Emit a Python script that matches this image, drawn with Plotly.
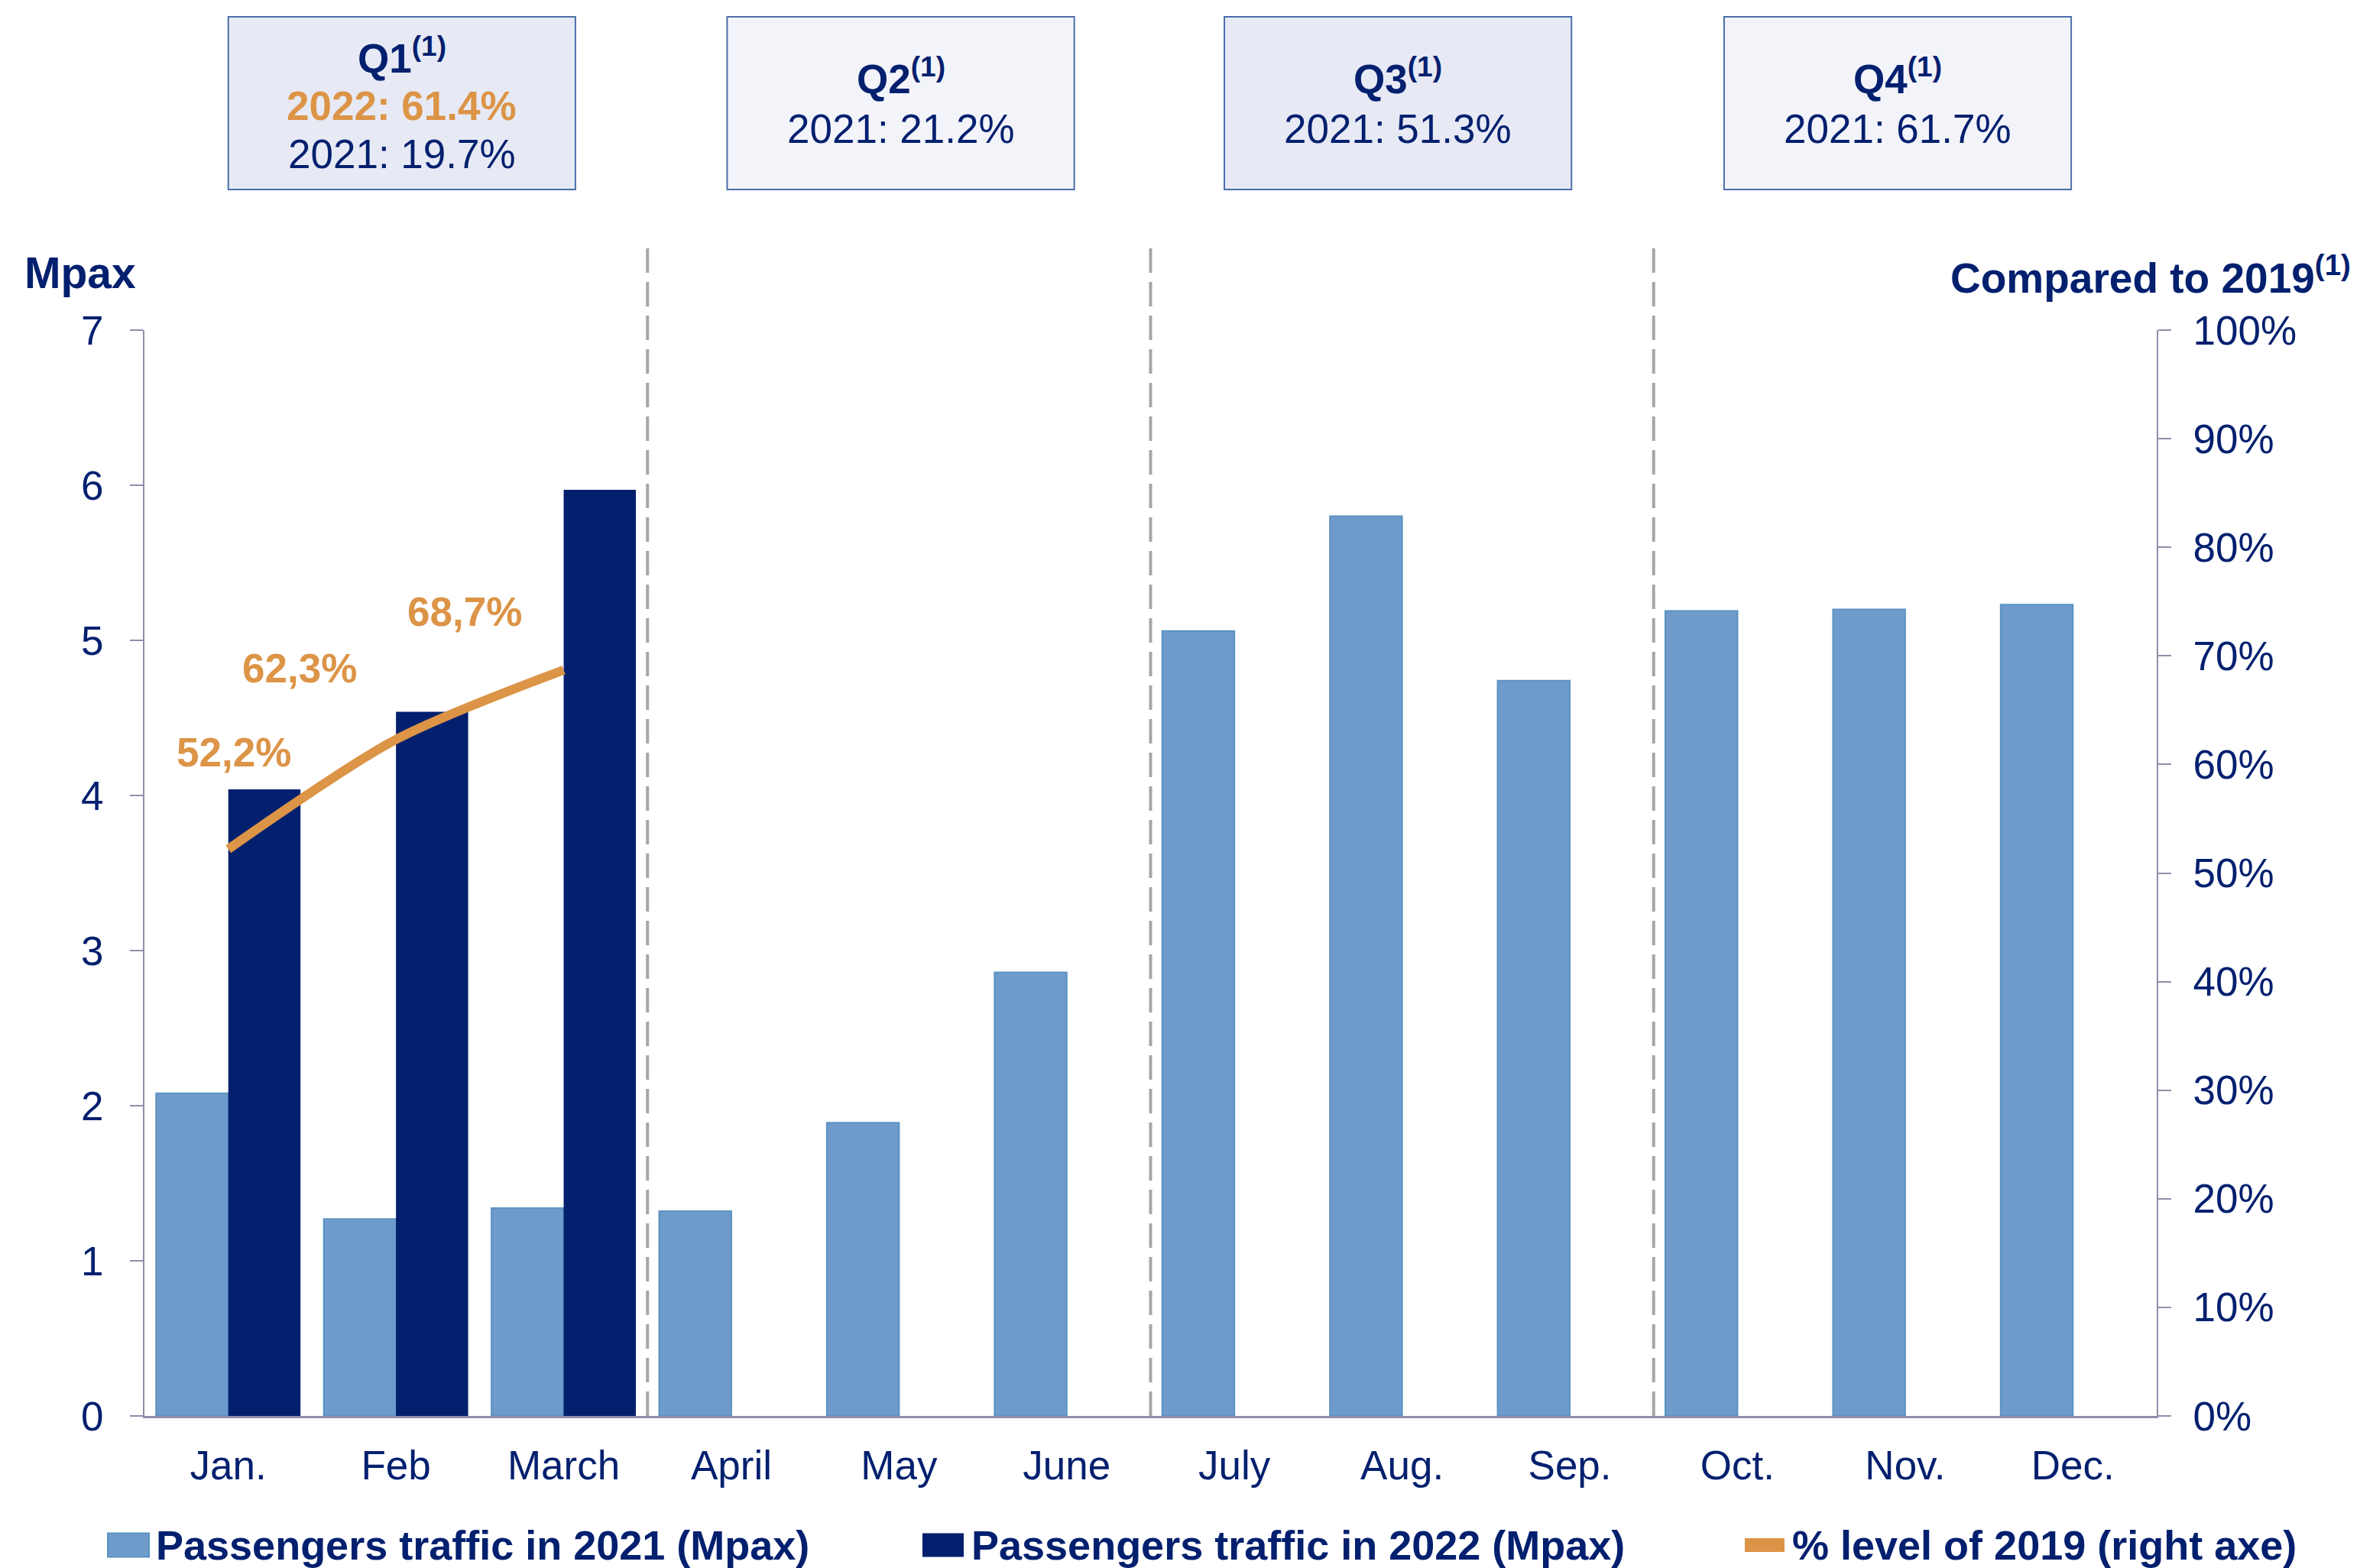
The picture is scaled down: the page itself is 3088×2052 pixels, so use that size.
import plotly.graph_objects as go

# ---------------- data ----------------
months = ["Jan.", "Feb", "March", "April", "May", "June",
          "July", "Aug.", "Sep.", "Oct.", "Nov.", "Dec."]
pax_2021 = [2.08, 1.27, 1.34, 1.32, 1.89, 2.86, 5.06, 5.80, 4.74, 5.19, 5.20, 5.23]
pax_2022 = [4.04, 4.54, 5.97, None, None, None, None, None, None, None, None, None]
pct_months = ["Jan.", "Feb", "March"]
pct_of_2019 = [0.522, 0.623, 0.687]
quarters = ["Q1", "Q2", "Q3", "Q4"]
q_2022 = ["61.4%", None, None, None]
q_2021 = ["19.7%", "21.2%", "51.3%", "61.7%"]
y_ticks = [0, 1, 2, 3, 4, 5, 6, 7]
y2_ticks = [0, 0.1, 0.2, 0.3, 0.4, 0.5, 0.6, 0.7, 0.8, 0.9, 1.0]
series_names = ["Passengers traffic in 2021 (Mpax)",
                "Passengers traffic in 2022 (Mpax)",
                "% level of 2019 (right axe)"]

# ---------------- style ----------------
NAVY = "#03206F"
LIGHT = "#6E9BCB"
LIGHT_EDGE = "#5B93C2"
ORANGE = "#DC9447"
AXIS = "#8E8EAB"
FONT = "Liberation Sans, Arial, sans-serif"

W, H = 3088, 2052
ML, MR, MT, MB = 189, 266, 432, 199
PW, PH = W - ML - MR, H - MT - MB


def px_x(xp):
    return (xp - ML) / PW


def px_y(yp):
    return (H - MB - yp) / PH


fig = go.Figure()

fig.add_trace(go.Bar(
    x=months, y=pax_2021, name=series_names[0],
    marker=dict(color=LIGHT, line=dict(color=LIGHT_EDGE, width=2)),
))
fig.add_trace(go.Bar(
    x=months, y=pax_2022, name=series_names[1],
    marker=dict(color=NAVY, line=dict(width=0)),
))
fig.add_trace(go.Scatter(
    x=pct_months, y=pct_of_2019, name=series_names[2],
    yaxis="y2", mode="lines",
    line=dict(color=ORANGE, width=12, shape="spline", smoothing=0.8),
))

annotations = []
shapes = []

# percent labels on the line
shifts = [(7, 127), (-126, 93), (-130, 76)]
for m, v, (dx, dy) in zip(pct_months, pct_of_2019, shifts):
    annotations.append(dict(
        x=m, y=v, xref="x", yref="y2", showarrow=False,
        text="<b>" + f"{v*100:.1f}".replace(".", ",") + "%</b>",
        font=dict(family=FONT, size=53, color=ORANGE),
        xshift=dx, yshift=dy, xanchor="center", yanchor="middle",
    ))

# quarter boxes
box_starts = [0.0, 2.975, 5.94, 8.92]
box_fills = ["#E7EAF5", "#F3F4FA", "#E7EAF5", "#F3F4FA"]
for i, q in enumerate(quarters):
    x0 = box_starts[i]
    x1 = x0 + 2.07
    shapes.append(dict(
        type="rect", xref="x", yref="paper",
        x0=x0, x1=x1, y0=px_y(248), y1=px_y(22),
        fillcolor=box_fills[i], line=dict(color="#4A6FA8", width=2),
        layer="above",
    ))
    xc = (x0 + x1) / 2
    if q_2022[i] is not None:
        lines = [(f"<b>{q}<sup>(1)</sup></b>", NAVY, 72),
                 (f"<b>2022: {q_2022[i]}</b>", ORANGE, 138),
                 (f"2021: {q_2021[i]}", NAVY, 201)]
    else:
        lines = [(f"<b>{q}<sup>(1)</sup></b>", NAVY, 99),
                 (f"2021: {q_2021[i]}", NAVY, 169)]
    for txt, col, yp in lines:
        annotations.append(dict(
            x=xc, y=px_y(yp), xref="x", yref="paper", showarrow=False,
            text=txt, font=dict(family=FONT, size=53, color=col),
            xanchor="center", yanchor="middle",
        ))

# dashed quarter separators
for xs in [2.5, 5.5, 8.5]:
    shapes.append(dict(
        type="line", xref="x", yref="paper", x0=xs, x1=xs,
        y0=0, y1=px_y(325),
        line=dict(color="#A6A6A6", width=4, dash="32px,12px"),
    ))

# axis titles
annotations.append(dict(
    x=px_x(30), y=px_y(357), xref="paper", yref="paper", showarrow=False,
    text="<b>Mpax</b>", font=dict(family=FONT, size=57, color=NAVY),
    xanchor="left", yanchor="middle",
))
annotations.append(dict(
    x=px_x(3078), y=px_y(360), xref="paper", yref="paper", showarrow=False,
    text="<b>Compared to 2019<sup>(1)</sup></b>",
    font=dict(family=FONT, size=55, color=NAVY),
    xanchor="right", yanchor="middle",
))

# legend (drawn as shapes + text)
leg_y = 2022
leg_items = [
    dict(fill=LIGHT, edge=LIGHT_EDGE, x0=141, x1=195, h=31, tx=202),
    dict(fill=NAVY, edge=NAVY, x0=1208, x1=1260, h=29, tx=1269),
    dict(fill=ORANGE, edge=ORANGE, x0=2284, x1=2334, h=16, tx=2343),
]
for item, name in zip(leg_items, series_names):
    shapes.append(dict(
        type="rect", xref="paper", yref="paper",
        x0=px_x(item["x0"]), x1=px_x(item["x1"]),
        y0=px_y(leg_y + item["h"] / 2), y1=px_y(leg_y - item["h"] / 2),
        fillcolor=item["fill"], line=dict(color=item["edge"], width=2),
    ))
    annotations.append(dict(
        x=px_x(item["tx"]), y=px_y(leg_y), xref="paper", yref="paper",
        showarrow=False, text=f"<b>{name}</b>",
        font=dict(family=FONT, size=54, color=NAVY),
        xanchor="left", yanchor="middle",
    ))

fig.update_layout(
    width=W, height=H,
    margin=dict(l=ML, r=MR, t=MT, b=MB, autoexpand=False),
    paper_bgcolor="white", plot_bgcolor="white",
    barmode="group", bargap=0.139, bargroupgap=0,
    font=dict(family=FONT, size=53, color=NAVY),
    showlegend=False,
    xaxis=dict(
        type="category", categoryorder="array", categoryarray=months,
        range=[-0.5, 11.5], showline=True, linecolor=AXIS, linewidth=3,
        ticks="", showgrid=False, zeroline=False,
        tickfont=dict(family=FONT, size=53, color=NAVY),
        ticklabelstandoff=16,
    ),
    yaxis=dict(
        range=[0, 7], tickvals=y_ticks, showline=True, linecolor=AXIS,
        linewidth=2, ticks="outside", ticklen=17, tickwidth=2,
        tickcolor=AXIS, showgrid=False, zeroline=False,
        tickfont=dict(family=FONT, size=53, color=NAVY),
        ticklabelstandoff=24,
    ),
    yaxis2=dict(
        range=[0, 1], tickvals=y2_ticks, tickformat=".0%",
        overlaying="y", side="right", showline=True, linecolor=AXIS,
        linewidth=2, ticks="outside", ticklen=17, tickwidth=2,
        tickcolor=AXIS, showgrid=False, zeroline=False,
        tickfont=dict(family=FONT, size=53, color=NAVY),
        ticklabelstandoff=18,
    ),
    shapes=shapes,
    annotations=annotations,
)

fig.write_html("out.html")
